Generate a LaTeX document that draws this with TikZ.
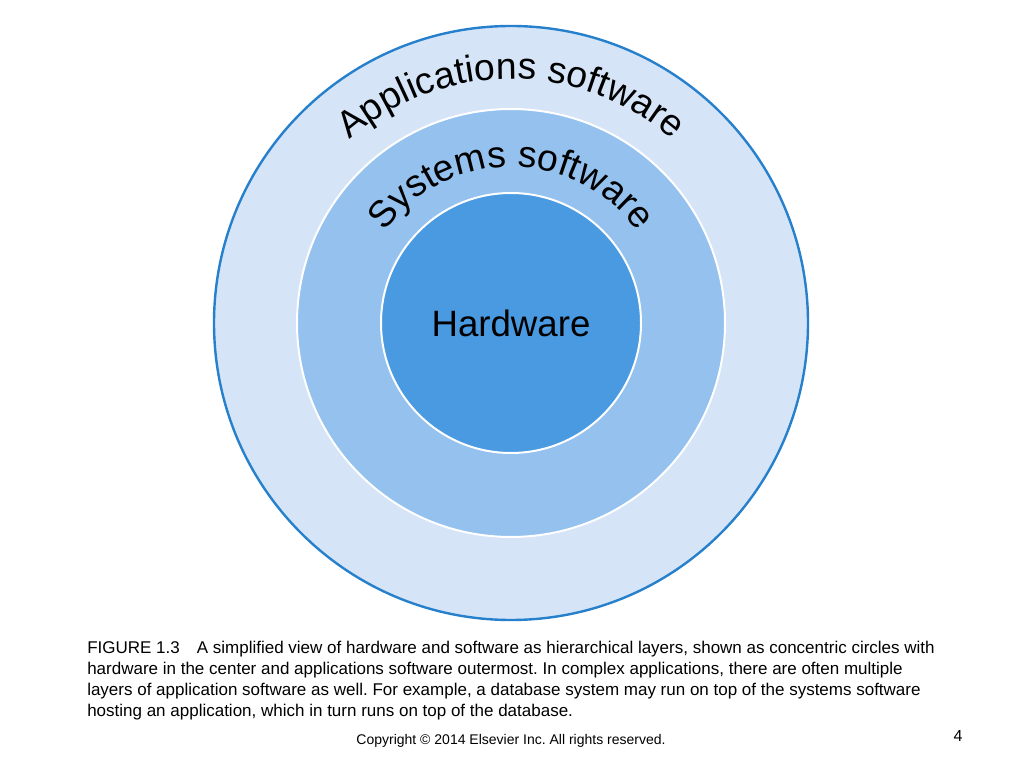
\documentclass[tikz,border=0pt]{standalone}
\usepackage{fontspec}
\setmainfont{Liberation Sans}
\usetikzlibrary{decorations.text}
\frenchspacing

\definecolor{appfill}{RGB}{213,228,247}
\definecolor{sysfill}{RGB}{148,193,238}
\definecolor{hwfill}{RGB}{74,154,225}
\definecolor{rimblue}{RGB}{38,128,204}

\newcommand{\ringfont}{\fontsize{28}{28}\selectfont}

\begin{document}
\begin{tikzpicture}[
        x=0.75pt, y=0.75pt,
        layer/.style={circle, inner sep=0pt, line width=1.5pt, draw=white},
        ringlabel/.style={decorate, decoration={text along path, text align=center}}
    ]
    \def\rapp{297} % outer radius in px
    \def\rsys{214} % middle radius
    \def\rhw{130}  % inner radius

    \useasboundingbox (0,0) rectangle (1024,768);
    \coordinate (c) at (511,445);

    % Concentric layers
    \node[layer, draw=rimblue, line width=1.8pt, fill=appfill,
        minimum size={2*\rapp*0.75pt}] (app) at (c) {};
    \node[layer, fill=sysfill, minimum size={2*\rsys*0.75pt}] (sys) at (c) {};
    \node[layer, fill=hwfill, minimum size={2*\rhw*0.75pt},
        font=\fontsize{27.5}{28}\selectfont] (hw) at (c) {Hardware};

    % Curved labels
    \path[ringlabel, decoration={text={|\ringfont|Applications software}}]
        (c) ++(180:244) arc[start angle=180, end angle=0, radius=244];
    \path[ringlabel, decoration={text={|\ringfont|Systems software}}]
        (c) ++(180:156) arc[start angle=180, end angle=0, radius=156];

    % Caption and footer
    \node[anchor=base west, align=left, inner sep=0pt,
        font=\fontsize{12.75}{15.75}\selectfont] (caption) at (87,52)
        {FIGURE 1.3\quad A simplified view of hardware and software as hierarchical layers, shown as concentric circles with\\
        hardware in the center and applications software outermost. In complex applications, there are often multiple\\
        layers of application software as well. For example, a database system may run on top of the systems software\\
        hosting an application, which in turn runs on top of the database.};
    \node[anchor=base, inner sep=0pt, font=\fontsize{10.5}{12}\selectfont]
        (copy) at (511,24) {Copyright \textcopyright{} 2014 Elsevier Inc. All rights reserved.};
    \node[anchor=base, inner sep=0pt, font=\fontsize{12}{12}\selectfont]
        (page) at (958,27) {4};
\end{tikzpicture}
\end{document}
